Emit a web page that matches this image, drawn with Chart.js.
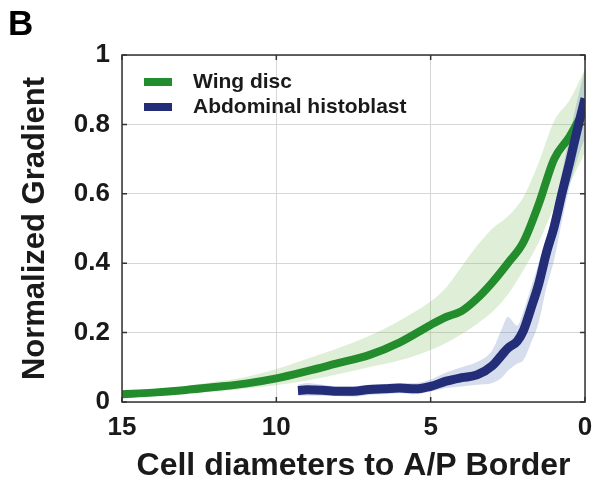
<!DOCTYPE html>
<html>
<head>
<meta charset="utf-8">
<script src="https://cdn.jsdelivr.net/npm/chart.js@4/dist/chart.umd.min.js"></script>
<style>
  html, body { margin: 0; padding: 0; background: #fff; }
</style>
</head>
<body>
<canvas id="chart" width="593" height="480"></canvas>
<script>
// tick values
const xTicks = [15, 10, 5, 0];
const yTicks = [0, 0.2, 0.4, 0.6, 0.8, 1];

// Wing disc: mean and shaded band
const wingX    = [15, 14, 13, 12, 11, 10, 9, 8, 7, 6, 5, 4.5, 4, 3.5, 3, 2.5, 2, 1.5, 1, 0.5, 0];
const wingMean = [0.022, 0.027, 0.034, 0.043, 0.053, 0.068, 0.089, 0.112, 0.135, 0.172, 0.222, 0.245, 0.262, 0.298, 0.345, 0.40, 0.46, 0.57, 0.70, 0.765, 0.845];
const wingHi   = [0.03, 0.035, 0.045, 0.058, 0.072, 0.095, 0.125, 0.155, 0.19, 0.235, 0.29, 0.33, 0.39, 0.45, 0.50, 0.535, 0.59, 0.69, 0.81, 0.87, 0.96];
const wingLo   = [0.015, 0.02, 0.025, 0.03, 0.038, 0.048, 0.062, 0.08, 0.10, 0.12, 0.15, 0.17, 0.195, 0.225, 0.26, 0.31, 0.38, 0.46, 0.56, 0.63, 0.72];

// Abdominal histoblast: mean and shaded band
const abdX    = [9.3, 9, 8.5, 8, 7.5, 7, 6.5, 6, 5.5, 5, 4.5, 4, 3.5, 3, 2.7, 2.5, 2.2, 2, 1.75, 1.5, 1.25, 1, 0.75, 0.5, 0.25, 0];
const abdMean = [0.033, 0.035, 0.034, 0.031, 0.031, 0.036, 0.038, 0.040, 0.038, 0.045, 0.06, 0.07, 0.078, 0.105, 0.135, 0.155, 0.175, 0.205, 0.27, 0.34, 0.43, 0.505, 0.60, 0.69, 0.785, 0.875];
const abdHi   = [0.05, 0.055, 0.05, 0.045, 0.045, 0.05, 0.052, 0.055, 0.055, 0.065, 0.085, 0.10, 0.115, 0.15, 0.21, 0.245, 0.22, 0.26, 0.33, 0.40, 0.47, 0.56, 0.66, 0.77, 0.87, 0.96];
const abdLo   = [0.018, 0.018, 0.018, 0.017, 0.015, 0.02, 0.022, 0.025, 0.022, 0.03, 0.04, 0.045, 0.05, 0.055, 0.07, 0.09, 0.11, 0.12, 0.17, 0.23, 0.33, 0.41, 0.52, 0.62, 0.70, 0.76];

const labels = ["Wing disc", "Abdominal histoblast"];

const GREEN = "#238c2d";
const BLUE = "#232d78";
const FONT = "'Liberation Sans', Arial, Helvetica, sans-serif";

const pts = (xs, ys) => xs.map((x, i) => ({ x: x, y: ys[i] }));

const lineDs = (label, data, color, width) => ({
    label: label,
    data: data,
    borderColor: color,
    borderWidth: width,
    pointRadius: 0,
    fill: false,
    cubicInterpolationMode: "monotone",
    borderCapStyle: "butt"
});

const bandDs = (data, fill, color) => ({
    label: "",
    data: data,
    borderWidth: 0,
    borderColor: "rgba(0,0,0,0)",
    backgroundColor: color,
    pointRadius: 0,
    fill: fill,
    cubicInterpolationMode: "monotone"
});

// frame, inward ticks, legend and panel letter
const decor = {
    id: "decor",
    afterDraw(chart) {
        const { ctx, chartArea: a, scales: { x, y } } = chart;
        ctx.save();
        ctx.strokeStyle = "#333";
        ctx.lineWidth = 1.5;
        ctx.strokeRect(a.left, a.top, a.right - a.left, a.bottom - a.top);
        ctx.beginPath();
        xTicks.forEach(v => {
            const px = x.getPixelForValue(v);
            ctx.moveTo(px, a.bottom); ctx.lineTo(px, a.bottom - 5);
            ctx.moveTo(px, a.top); ctx.lineTo(px, a.top + 5);
        });
        yTicks.forEach(v => {
            const py = y.getPixelForValue(v);
            ctx.moveTo(a.left, py); ctx.lineTo(a.left + 5, py);
            ctx.moveTo(a.right, py); ctx.lineTo(a.right - 5, py);
        });
        ctx.stroke();

        // legend
        const colors = [GREEN, BLUE];
        ctx.font = "bold 21px " + FONT;
        ctx.textBaseline = "middle";
        ctx.textAlign = "left";
        labels.forEach((t, i) => {
            const ly = 82 + i * 25;
            ctx.fillStyle = colors[i];
            ctx.fillRect(144, ly - 4, 28, 8);
            ctx.fillStyle = "#1a1a1a";
            ctx.fillText(t, 193, ly);
        });

        ctx.font = "bold 35px " + FONT;
        ctx.fillStyle = "#000";
        ctx.textBaseline = "alphabetic";
        ctx.fillText("B", 8, 35);
        ctx.restore();
    }
};

new Chart(document.getElementById("chart"), {
    type: "line",
    data: {
        datasets: [
            lineDs(labels[1], pts(abdX, abdMean), BLUE, 9),
            lineDs(labels[0], pts(wingX, wingMean), GREEN, 8),
            bandDs(pts(abdX, abdHi), "+1", "rgba(70,100,175,0.22)"),
            bandDs(pts(abdX, abdLo), false, "rgba(0,0,0,0)"),
            bandDs(pts(wingX, wingHi), "+1", "rgba(130,195,100,0.26)"),
            bandDs(pts(wingX, wingLo), false, "rgba(0,0,0,0)")
        ]
    },
    options: {
        responsive: false,
        animation: false,
        devicePixelRatio: 1,
        layout: { padding: { left: 0, right: 8, top: 55, bottom: 0 } },
        plugins: {
            legend: { display: false },
            tooltip: { enabled: false }
        },
        scales: {
            x: {
                type: "linear",
                reverse: true,
                min: 0,
                max: 15,
                afterBuildTicks: s => { s.ticks = xTicks.map(v => ({ value: v })); },
                afterFit: s => { s.height = 78; s.paddingLeft = 0; s.paddingRight = 0; },
                ticks: {
                    font: { family: FONT, size: 26, weight: "bold" },
                    color: "#1a1a1a",
                    padding: 10,
                    maxRotation: 0
                },
                grid: { color: "#d6d6d6", lineWidth: 1, drawTicks: false },
                border: { display: false },
                title: {
                    display: true,
                    text: "Cell diameters to A/P Border",
                    font: { family: FONT, size: 32, weight: "bold", lineHeight: 1 },
                    color: "#1a1a1a",
                    padding: { top: 0, bottom: -2 }
                }
            },
            y: {
                min: 0,
                max: 1,
                afterBuildTicks: s => { s.ticks = yTicks.map(v => ({ value: v })); },
                afterFit: s => { s.width = 122; s.paddingTop = 0; s.paddingBottom = 0; },
                ticks: {
                    font: { family: FONT, size: 26, weight: "bold" },
                    color: "#1a1a1a",
                    padding: 12,
                    callback: v => String(v)
                },
                grid: { color: "#d6d6d6", lineWidth: 1, drawTicks: false },
                border: { display: false },
                title: {
                    display: true,
                    text: "Normalized Gradient",
                    font: { family: FONT, size: 31, weight: "bold", lineHeight: 1 },
                    color: "#1a1a1a",
                    padding: { top: 20, bottom: 0 }
                }
            }
        }
    },
    plugins: [decor]
});
</script>
</body>
</html>
